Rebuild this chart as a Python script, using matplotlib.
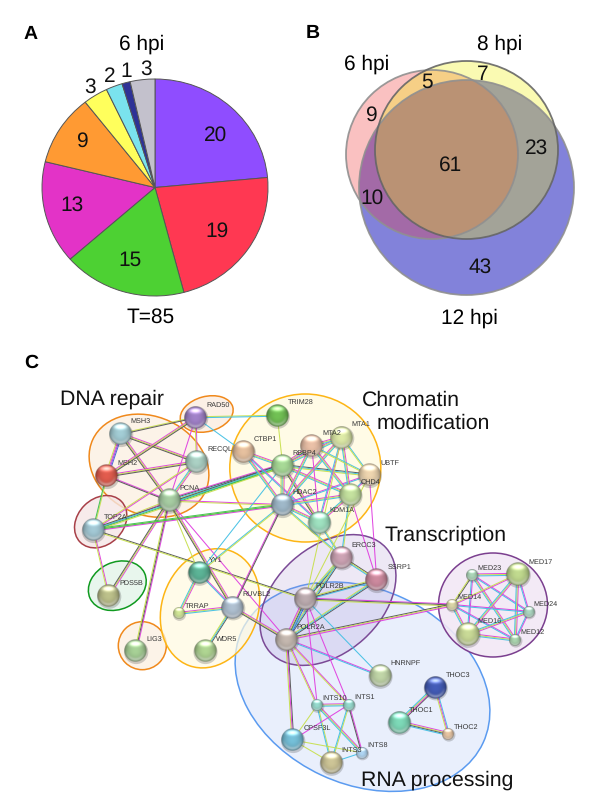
import numpy as np
import matplotlib
matplotlib.use('Agg')
import matplotlib.pyplot as plt
from matplotlib.patches import Ellipse, Circle

plt.rcParams['font.family'] = ['Liberation Sans', 'DejaVu Sans']
plt.rcParams['text.hinting'] = 'none'

W, H = 600, 806

# Panel A
pie_values = [20, 19, 15, 13, 9, 3, 2, 1, 3]
pie_colors = ['#8F4DFF', '#FF3852', '#4DD133', '#E333C7', '#FF9A33', '#FFFF5C', '#7AE3EE', '#2E3296', '#C3C1CC']
pie_label_x = [216, 217, 130, 72, 82, 90, 110, 126, 146]
pie_label_y = [135, 231, 260, 205, 141, 87, 77, 72, 69]

# Panel B
venn_numbers = ['9', '5', '7', '23', '61', '10', '43']
venn_x = [371, 427, 483, 537, 451, 372, 480]
venn_y = [115, 82, 75, 148, 165, 198, 267]

# Panel C: STRING network, one entry per protein
names = ['MSH3', 'MSH2', 'RAD50', 'RECQL', 'PCNA', 'TOP2A', 'PDS5B', 'LIG3',
         'YY1', 'TRRAP', 'RUVBL2', 'WDR5', 'TRIM28', 'CTBP1', 'RBBP4', 'HDAC2',
         'MTA2', 'MTA1', 'UBTF', 'CHD4', 'KDM1A', 'ERCC3', 'SSRP1', 'POLR2B', 'POLR2A',
         'MED23', 'MED17', 'MED14', 'MED24', 'MED16', 'MED12',
         'HNRNPF', 'THOC3', 'THOC1', 'THOC2', 'INTS10', 'INTS1', 'CPSF3L', 'INTS3', 'INTS8']
node_x = [120.7, 106.7, 195.7, 196.7, 169, 93.3, 108.7, 135.7,
          199, 179, 232.7, 205, 277.3, 243.3, 282.7, 282.3,
          311.7, 341.7, 369.3, 350, 319, 341.7, 376.7, 305.7, 286.7,
          472.3, 517.7, 452.3, 528.7, 467.7, 515.3,
          380, 435.3, 399, 448.3, 317.3, 348.7, 292.7, 331.3, 362]
node_y = [434, 476, 417.3, 461.7, 500.7, 530, 595.7, 651,
          572.7, 613.3, 607.3, 651, 415.7, 451.7, 465.7, 505,
          445.7, 437.3, 475, 495, 522.3, 557.3, 580, 599, 639.3,
          575, 574.3, 605, 611.7, 634.3, 640,
          675.7, 687.3, 722.3, 734, 705.3, 704.7, 740, 762.7, 752.7]
node_r = [11.5, 11.5, 11.5, 11.5, 11.5, 11.5, 11.5, 11.5,
          11.5, 6, 11.5, 11.5, 11.5, 11.5, 11.5, 11.5,
          11.5, 11.5, 11.5, 11.5, 11.5, 11.5, 11.5, 11.5, 11.5,
          6, 12, 6, 6, 12, 6,
          11.5, 11.5, 11.5, 6, 6, 6, 11.5, 11.5, 6]
node_colors = ['#9CC4CC', '#D8584A', '#9A7CC0', '#A4C8BC', '#A0C49C', '#9CC0CC', '#B4B884', '#A0C890',
               '#58AC90', '#C8DC90', '#A8B8C8', '#A8CC8C', '#6CB850', '#DCB898', '#A0D090', '#98B0C0',
               '#E0B8A0', '#D4E0A0', '#E4CCA8', '#BCD898', '#98D8B8', '#C49CAC', '#C48498', '#B4A4A8', '#BCB0A8',
               '#A4CCB0', '#B8D088', '#D0CCA0', '#A4CCB8', '#C0D090', '#A4CCA8',
               '#B8CCA0', '#4058B0', '#78D0B0', '#DCBC9C', '#90D0C4', '#90D0C4', '#70B8D0', '#C4BC90', '#A8CCE8']
label_x = [130.7, 117.3, 206, 207.3, 179, 104, 119, 146,
           209.3, 185, 242.7, 215.7, 287.7, 254, 292.7, 292.7,
           322.3, 351.7, 380, 360.7, 329.3, 351.7, 387.3, 315.7, 296.7,
           477.7, 528, 457.7, 533.7, 477.7, 520.7,
           390.7, 445.7, 409.3, 453.7, 322.7, 354, 303.3, 341.7, 367.3]
label_y = [421.3, 463.3, 404.7, 449.7, 488.3, 517.3, 583.3, 639,
           560.3, 605.7, 594.3, 639.3, 402.3, 439, 453.3, 492,
           433.3, 424.3, 463.3, 482.3, 509.7, 545, 567, 586.3, 626.7,
           567.7, 562, 597.3, 604, 621, 632.3,
           662.7, 674.7, 709.7, 726.7, 697.7, 697.3, 727.7, 750.3, 745.3]

# p pink, y yellow-green, c cyan, k dark, g green, b blue, v violet
edges = [('MSH3', 'MSH2', 'bvpy'), ('MSH3', 'RECQL', 'pyk'), ('MSH3', 'PCNA', 'pyk'), ('MSH2', 'RECQL', 'pyk'),
         ('MSH2', 'PCNA', 'pk'), ('MSH2', 'RAD50', 'pyk'), ('MSH3', 'RAD50', 'yk'), ('RAD50', 'PCNA', 'p'),
         ('RAD50', 'RECQL', 'py'), ('RECQL', 'PCNA', 'pyc'), ('MSH2', 'TOP2A', 'yg'), ('PCNA', 'TOP2A', 'py'),
         ('RECQL', 'TOP2A', 'py'), ('TOP2A', 'PDS5B', 'py'), ('PCNA', 'PDS5B', 'pyk'), ('PCNA', 'LIG3', 'pky'),
         ('PCNA', 'RBBP4', 'pkcyg'), ('TOP2A', 'RBBP4', 'kcgy'), ('TOP2A', 'HDAC2', 'gyp'), ('TOP2A', 'POLR2B', 'ky'),
         ('PCNA', 'HDAC2', 'py'), ('RAD50', 'TRIM28', 'yc'), ('RAD50', 'CTBP1', 'c'), ('PCNA', 'YY1', 'y'),
         ('PCNA', 'RUVBL2', 'pyk'), ('PCNA', 'POLR2A', 'p'), ('YY1', 'RUVBL2', 'pc'), ('YY1', 'TRRAP', 'pyc'),
         ('TRRAP', 'RUVBL2', 'pyc'), ('RUVBL2', 'WDR5', 'kcy'), ('RUVBL2', 'POLR2A', 'pyk'), ('RUVBL2', 'HDAC2', 'pk'),
         ('YY1', 'HDAC2', 'cy'), ('YY1', 'RBBP4', 'c'),
         # chromatin group
         ('CTBP1', 'RBBP4', 'pyc'), ('CTBP1', 'HDAC2', 'pyc'), ('CTBP1', 'KDM1A', 'pc'), ('RBBP4', 'HDAC2', 'pycy'),
         ('RBBP4', 'MTA2', 'pyc'), ('RBBP4', 'MTA1', 'pyc'), ('RBBP4', 'UBTF', 'kcy'), ('RBBP4', 'CHD4', 'pyc'),
         ('RBBP4', 'KDM1A', 'pyk'), ('HDAC2', 'MTA2', 'pyc'), ('HDAC2', 'MTA1', 'pyc'), ('HDAC2', 'UBTF', 'pc'),
         ('HDAC2', 'CHD4', 'pyc'), ('HDAC2', 'KDM1A', 'pyc'), ('MTA2', 'MTA1', 'pyc'), ('MTA2', 'CHD4', 'pyc'),
         ('MTA2', 'KDM1A', 'p'), ('MTA1', 'CHD4', 'pyc'), ('MTA1', 'KDM1A', 'pc'), ('MTA2', 'UBTF', 'cy'),
         ('MTA1', 'UBTF', 'cy'), ('UBTF', 'CHD4', 'pc'), ('CHD4', 'KDM1A', 'pyc'), ('TRIM28', 'RBBP4', 'y'),
         ('HDAC2', 'TOP2A', 'g'),
         # transcription group
         ('HDAC2', 'ERCC3', 'cy'), ('KDM1A', 'ERCC3', 'yc'), ('CHD4', 'ERCC3', 'yc'), ('UBTF', 'SSRP1', 'p'),
         ('CHD4', 'SSRP1', 'p'), ('UBTF', 'POLR2B', 'y'), ('MTA1', 'POLR2B', 'y'), ('ERCC3', 'SSRP1', 'kyc'),
         ('ERCC3', 'POLR2B', 'kcy'), ('ERCC3', 'POLR2A', 'kcy'), ('SSRP1', 'POLR2B', 'cky'), ('SSRP1', 'POLR2A', 'kcy'),
         ('POLR2B', 'POLR2A', 'bckyp'), ('POLR2B', 'MED14', 'pky'), ('POLR2A', 'MED14', 'kyp'),
         # mediator clique
         ('MED23', 'MED17', 'pyc'), ('MED23', 'MED14', 'ky'), ('MED23', 'MED24', 'pc'), ('MED23', 'MED16', 'pc'),
         ('MED23', 'MED12', 'pyc'), ('MED17', 'MED14', 'py'), ('MED17', 'MED24', 'pc'), ('MED17', 'MED16', 'pyc'),
         ('MED17', 'MED12', 'pyc'), ('MED14', 'MED24', 'pc'), ('MED14', 'MED16', 'pyc'), ('MED14', 'MED12', 'pc'),
         ('MED24', 'MED16', 'pyc'), ('MED24', 'MED12', 'pc'), ('MED16', 'MED12', 'pyc'),
         # RNA processing
         ('POLR2A', 'HNRNPF', 'pc'), ('POLR2B', 'HNRNPF', 'c'), ('POLR2A', 'CPSF3L', 'kpy'), ('POLR2A', 'INTS10', 'py'),
         ('POLR2A', 'INTS1', 'py'), ('POLR2B', 'INTS10', 'p'), ('POLR2B', 'INTS1', 'p'),
         ('INTS10', 'INTS1', 'pyc'), ('INTS10', 'CPSF3L', 'y'), ('INTS10', 'INTS3', 'yc'), ('INTS10', 'INTS8', 'pyc'),
         ('INTS1', 'CPSF3L', 'p'), ('INTS1', 'INTS3', 'yc'), ('INTS1', 'INTS8', 'pk'), ('CPSF3L', 'INTS3', 'y'),
         ('CPSF3L', 'INTS8', 'y'), ('INTS3', 'INTS8', 'c'), ('THOC3', 'THOC1', 'kpyc'), ('THOC3', 'THOC2', 'cpy'),
         ('THOC1', 'THOC2', 'pykc')]
strand_colors = {'p': '#E040E0', 'y': '#C8E050', 'c': '#44C0E4', 'k': '#585858',
                 'g': '#40C050', 'b': '#4860E0', 'v': '#9458D4'}

# cx, cy, width, height, angle, edge colour, face colour
groups = [(362.5, 686.7, 266, 195, 25, '#5B9BF0', (0.90, 0.93, 0.99, 0.85)),
          (149, 465.7, 124, 98, 25, '#F0891C', (0.99, 0.94, 0.89, 0.8)),
          (206.7, 414, 54, 35, -15, '#F0891C', (0.99, 0.93, 0.88, 0.8)),
          (100.7, 521.7, 58, 46, -45, '#A84048', (0.96, 0.90, 0.90, 0.8)),
          (117.3, 585.7, 60, 47, -25, '#109A20', (0.90, 0.96, 0.92, 0.9)),
          (142.3, 645.7, 48, 48, 0, '#F0891C', (0.99, 0.94, 0.89, 0.8)),
          (210, 608.3, 122, 96, -70, '#FDB515', (1.0, 0.98, 0.88, 0.7)),
          (305.3, 468, 151, 148, 0, '#FDB515', (1.0, 0.98, 0.88, 0.8)),
          (493, 605, 109, 104, 0, '#7B3F8F', (0.95, 0.91, 0.96, 0.9)),
          (328, 600, 156, 106, -42, '#7B4A96', (0.62, 0.50, 0.80, 0.18))]

group_titles = ['DNA repair', 'Chromatin', 'modification', 'Transcription', 'RNA processing']
title_x = [60, 362, 377, 385, 361]
title_y = [399, 400, 423, 535, 780]


def sphere(ax, x, y, r, color):
    # shaded ball like the STRING nodes
    ax.add_patch(Circle((x + 0.5, y + 1), r + 0.6, facecolor='#444444', edgecolor='none', alpha=0.25, zorder=4.5))
    n = 48
    v, u = np.mgrid[-1:1:n * 1j, -1:1:n * 1j]
    d = np.sqrt(u ** 2 + v ** 2)
    base = np.array(matplotlib.colors.to_rgb(color))
    shade = 0.5 + 0.55 * np.sqrt(np.clip(1 - d ** 2, 0, 1))
    img = np.zeros((n, n, 4))
    for i in range(3):
        img[:, :, i] = base[i] * shade
    glow = np.exp(-((u / 0.55) ** 2 + ((v + 0.62) / 0.22) ** 2)) * 0.6
    low = np.exp(-((d - 0.78) / 0.14) ** 2) * np.clip(v, 0, 1) * 0.5
    for i in range(3):
        img[:, :, i] = np.clip(img[:, :, i] + glow + low * (1 - img[:, :, i]), 0, 1)
    img[:, :, 3] = np.clip((1 - d) * n / 2, 0, 1)
    ax.imshow(img, extent=(x - r, x + r, y + r, y - r), aspect='auto', zorder=5, interpolation='bilinear')


fig = plt.figure(figsize=(W / 100, H / 100), dpi=100)

# A: pie, slightly wider than tall like the source. Goes in first so the texts sit on top
pie_cx, pie_cy, pie_rx, pie_ry = 155, 187.5, 113, 108.5
ax_pie = fig.add_axes([(pie_cx - 1.1 * pie_rx) / W, 1 - (pie_cy + 1.1 * pie_ry) / H,
                       2.2 * pie_rx / W, 2.2 * pie_ry / H], zorder=0)
ax_pie.pie(pie_values, colors=pie_colors, startangle=90, counterclock=False,
           wedgeprops={'edgecolor': '#555555', 'linewidth': 0.7})
ax_pie.set_aspect('auto')
ax_pie.set_xlim(-1.1, 1.1)
ax_pie.set_ylim(-1.1, 1.1)

ax = fig.add_axes([0, 0, 1, 1], zorder=1)
ax.set_xlim(0, W)
ax.set_ylim(H, 0)
ax.axis('off')
ax.autoscale(False)

for v, x, y in zip(pie_values, pie_label_x, pie_label_y):
    ax.text(x, y, str(v), fontsize=15, ha='center', va='center', color='#111111', zorder=8)

# B: venn circles, drawn back to front with transparent fills
venn_fills = [(466.5, 187.5, 215, 215, (0.25, 0.25, 0.78, 0.65)),
              (432, 154.5, 172, 169, (0.94, 0.20, 0.20, 0.30)),
              (466.5, 150, 183, 178, (0.94, 0.94, 0.0, 0.30))]
venn_edges = ['#909090', '#909090', '#666666']
for (cx, cy, w, h, fc), ec in zip(venn_fills, venn_edges):
    ax.add_patch(Ellipse((cx, cy), w, h, facecolor=fc, edgecolor='none', zorder=2))
    ax.add_patch(Ellipse((cx, cy), w, h, facecolor='none', edgecolor=ec, linewidth=1.3, alpha=0.9, zorder=3))
for s, x, y in zip(venn_numbers, venn_x, venn_y):
    ax.text(x, y, s, fontsize=15, ha='center', va='center', color='#111111', zorder=8)

ax.text(142, 44, '6 hpi', fontsize=15, ha='center', va='center')
ax.text(151, 317, 'T=85', fontsize=15, ha='center', va='center')
ax.text(367, 64, '6 hpi', fontsize=15, ha='center', va='center')
ax.text(500, 44, '8 hpi', fontsize=15, ha='center', va='center')
ax.text(469, 318, '12 hpi', fontsize=15, ha='center', va='center')
ax.text(31, 34, 'A', fontsize=14, fontweight='bold', ha='center', va='center')
ax.text(313, 33, 'B', fontsize=14, fontweight='bold', ha='center', va='center')
ax.text(31, 363, 'C', fontsize=14, fontweight='bold', ha='center', va='center')

# C: network
for cx, cy, w, h, angle, ec, fc in groups:
    ax.add_patch(Ellipse((cx, cy), w, h, angle=angle, facecolor=fc, edgecolor=ec, linewidth=1.1, zorder=1))

pos = {n: (x, y) for n, x, y in zip(names, node_x, node_y)}
for a, b, strands in edges:
    x0, y0 = pos[a]
    x1, y1 = pos[b]
    length = np.hypot(x1 - x0, y1 - y0)
    nx, ny = -(y1 - y0) / length, (x1 - x0) / length
    for i, s in enumerate(strands):
        off = (i - (len(strands) - 1) / 2) * 1.0
        ax.plot([x0 + nx * off, x1 + nx * off], [y0 + ny * off, y1 + ny * off],
                color=strand_colors[s], linewidth=0.75, alpha=0.95, zorder=4, solid_capstyle='butt')

for n, x, y, r, c in zip(names, node_x, node_y, node_r, node_colors):
    sphere(ax, x, y, r, c)
for n, x, y in zip(names, label_x, label_y):
    ax.text(x, y, n, fontsize=5.2, ha='left', va='center', color='#333333', zorder=7)
for t, x, y in zip(group_titles, title_x, title_y):
    ax.text(x, y, t, fontsize=15.3, ha='left', va='center', color='#111111', zorder=8)

fig.savefig('out.png', dpi=100)
